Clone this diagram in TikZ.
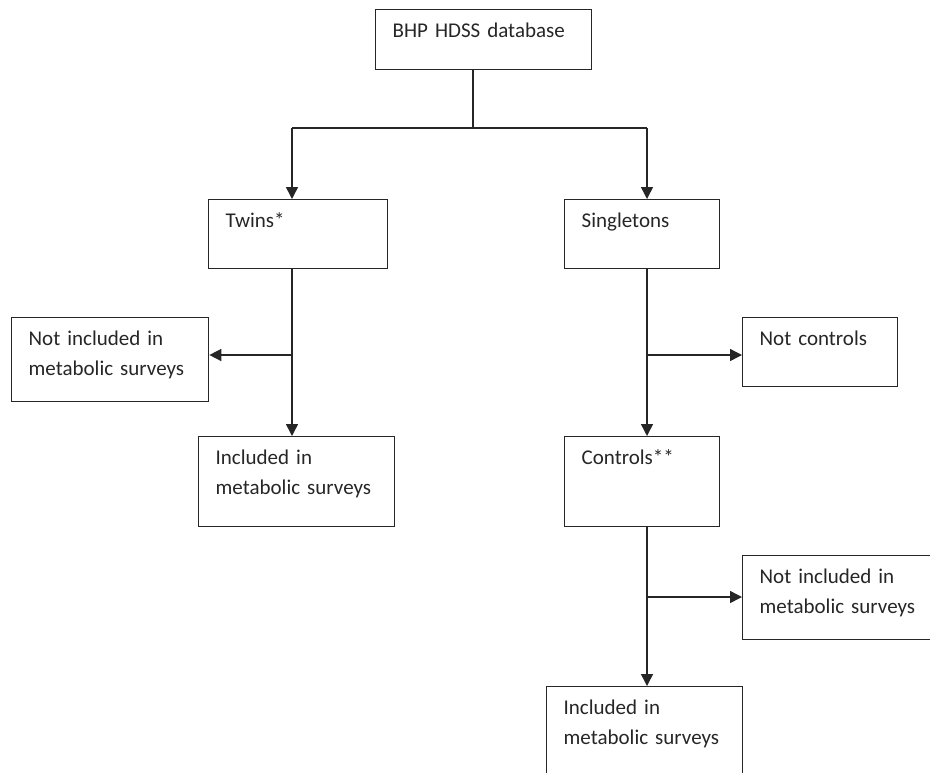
\documentclass[tikz,border=0pt]{standalone}
\usepackage{fontspec}
\setmainfont{Carlito}
\usepackage{tikz}
\usetikzlibrary{calc,arrows.meta,positioning}

\begin{document}
\begin{tikzpicture}[x=0.75pt,y=-0.75pt,
	every node/.style={font=\fontsize{15.75}{22.5}\selectfont,text=black!85},
	box/.style 2 args={draw=black!85,line width=1pt,anchor=north west,align=left,inner xsep=12.75pt,inner ysep=0pt,text height=21pt,text width=#1,text depth=#2},
	arr/.style={draw=black!85,line width=1.1pt,-{Triangle[length=9pt,width=9pt]}},
	link/.style={draw=black!85,line width=1.1pt}]
		\useasboundingbox (0,0) rectangle (930,772);
		\clip (0,0) rectangle (930,772);
		% boxes
		\node[box={136.5pt}{24pt}] (db) at (375,9) {BHP HDSS database};
		\node[box={108.75pt}{30.75pt}] (twins) at (208,199) {Twins*};
		\node[box={90.75pt}{30.75pt}] (single) at (564,199) {Singletons};
		\node[box={122.25pt}{42pt}] (notinc1) at (11,317) {Not included in\\metabolic surveys};
		\node[box={90.75pt}{30.75pt}] (notctrl) at (742,317) {Not controls};
		\node[box={121.5pt}{46.5pt}] (inc1) at (198,436) {Included in\\metabolic surveys};
		\node[box={90.75pt}{46.5pt}] (ctrl) at (564,436) {Controls**};
		\node[box={122.25pt}{42pt}] (notinc2) at (742,555) {Not included in\\metabolic surveys};
		\node[box={121.5pt}{46.5pt}] (inc2) at (546,686) {Included in\\metabolic surveys};
		% branch points
		\coordinate (split) at (473,128);
		\coordinate (lx) at (292,128);
		\coordinate (rx) at (647,128);
		\coordinate (lb) at (292,355);
		\coordinate (rb) at (647,355);
		\coordinate (cb) at (647,597);
		\path[link] (db.south -| split) -- (split);
		\path[link] (lx) -- (rx);
		\path[arr] (lx) -- (twins.north -| lx);
		\path[arr] (rx) -- (single.north -| rx);
		\path[arr] (twins.south -| lx) -- (inc1.north -| lx);
		\path[arr] (lb) -- (notinc1.east |- lb);
		\path[arr] (single.south -| rx) -- (ctrl.north -| rx);
		\path[arr] (rb) -- (notctrl.west |- rb);
		\path[arr] (ctrl.south -| rx) -- (inc2.north -| rx);
		\path[arr] (cb) -- (notinc2.west |- cb);
\end{tikzpicture}
\end{document}
